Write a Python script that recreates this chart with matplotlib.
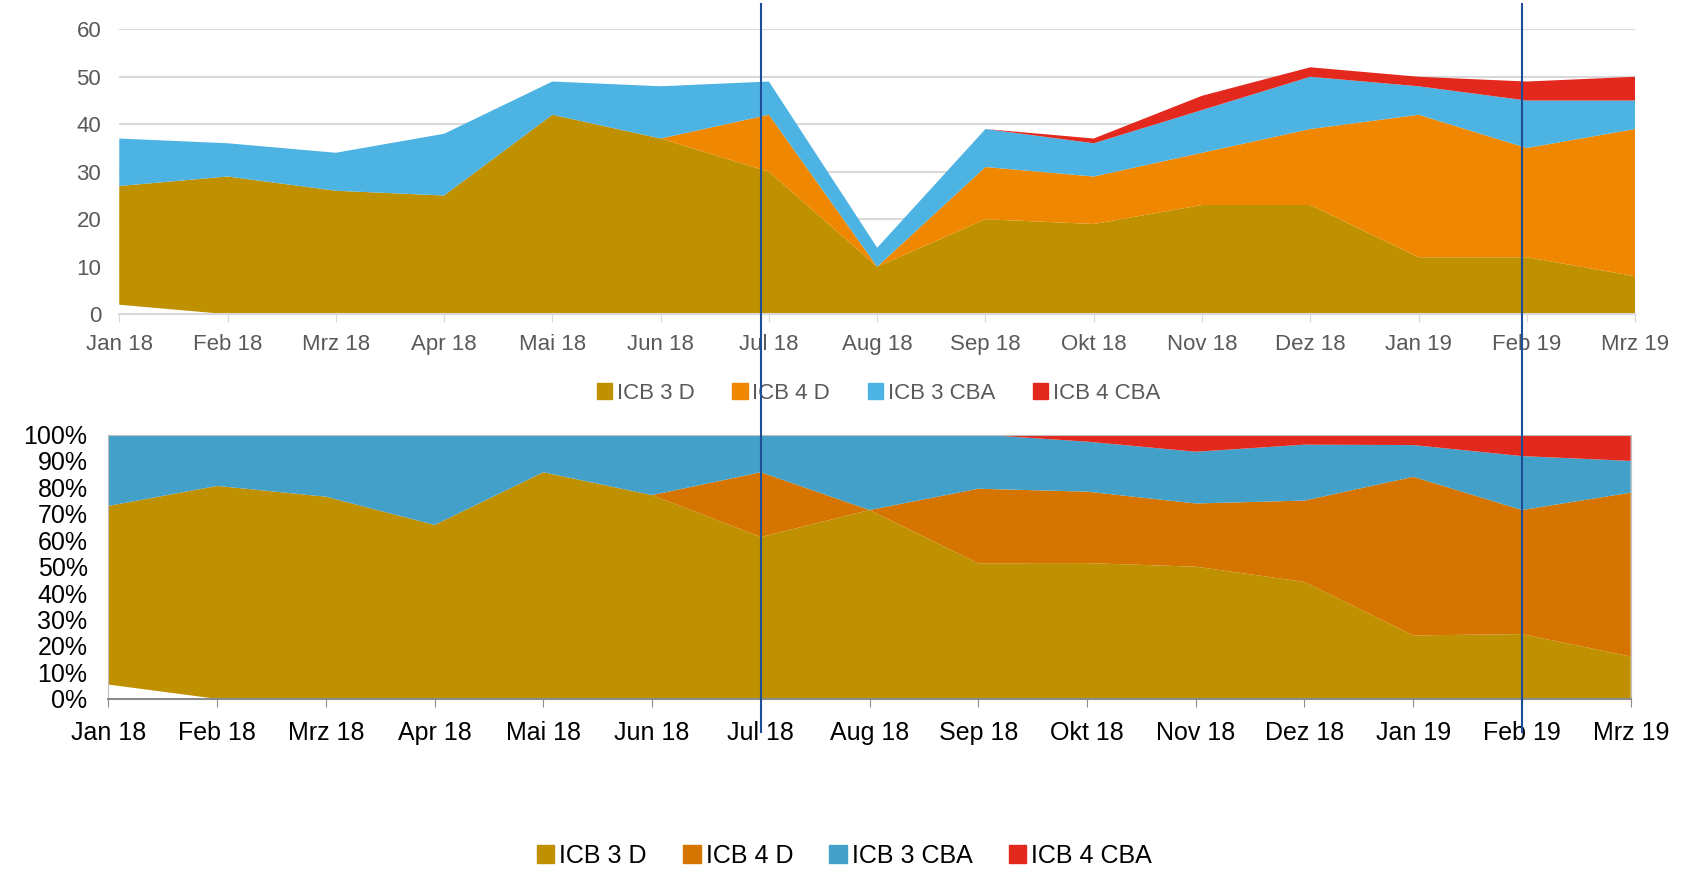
import matplotlib.pyplot as plt
import numpy as np
from matplotlib.lines import Line2D
from matplotlib.patches import Patch
import matplotlib.transforms as mtransforms

plt.rcParams['font.family'] = ['Liberation Sans', 'DejaVu Sans']

months = ['Jan 18', 'Feb 18', 'Mrz 18', 'Apr 18', 'Mai 18', 'Jun 18', 'Jul 18',
          'Aug 18', 'Sep 18', 'Okt 18', 'Nov 18', 'Dez 18', 'Jan 19', 'Feb 19', 'Mrz 19']
# unbenannte Basisreihe (weiss)
base = [2, 0, 0, 0, 0, 0, 0, 0, 0, 0, 0, 0, 0, 0, 0]
icb3d = [25, 29, 26, 25, 42, 37, 30, 10, 20, 19, 23, 23, 12, 12, 8]
icb4d = [0, 0, 0, 0, 0, 0, 12, 0, 11, 10, 11, 16, 30, 23, 31]
icb3cba = [10, 7, 8, 13, 7, 11, 7, 4, 8, 7, 9, 11, 6, 10, 6]
icb4cba = [0, 0, 0, 0, 0, 0, 0, 0, 0, 1, 3, 2, 2, 4, 5]
labels = ['ICB 3 D', 'ICB 4 D', 'ICB 3 CBA', 'ICB 4 CBA']

cols_top = ['#BF9000', '#EF8800', '#4DB3E2', '#E3281D']
cols_bot = ['#BF9000', '#D57500', '#43A0C8', '#E3281D']

x = np.arange(len(months))
series = np.array([base, icb3d, icb4d, icb3cba, icb4cba], dtype=float)
pct = series / series.sum(axis=0) * 100

fig = plt.figure(figsize=(16.99, 8.69), dpi=100)

# oben: absolute Werte
ax1 = fig.add_axes([0.0702, 0.6384, 0.8922, 0.3279])
ax1.stackplot(x, series, colors=['white'] + cols_top, edgecolor='none')
ax1.set_xlim(0, len(months) - 1)
ax1.set_ylim(0, 60)
ax1.set_yticks(range(0, 61, 10))
ax1.yaxis.grid(True, color='#D9D9D9', lw=1.5)
ax1.set_axisbelow(True)
for s in ['top', 'right', 'left']:
    ax1.spines[s].set_visible(False)
ax1.spines['bottom'].set_color('#D9D9D9')
ax1.spines['bottom'].set_linewidth(1.5)
ax1.set_xticks(x)
ax1.set_xticklabels(months)
ax1.tick_params(axis='x', colors='#D9D9D9', labelcolor='#595959', length=6, labelsize=16, pad=8)
ax1.tick_params(axis='y', length=0, labelcolor='#595959', labelsize=16, pad=13)
ax1.legend([Patch(color=c) for c in cols_top], labels, loc='center', bbox_to_anchor=(0.517, 0.5474),
           bbox_transform=fig.transFigure, ncol=4, frameon=False, fontsize=16,
           handlelength=0.7, handleheight=0.7, handletextpad=0.2, columnspacing=1.7,
           labelcolor='#595959')

# unten: Anteile in %
ax2 = fig.add_axes([0.0638, 0.1958, 0.896, 0.3042])
ax2.stackplot(x, pct, colors=['white'] + cols_bot, edgecolor='none')
ax2.set_xlim(0, len(months) - 1)
ax2.set_ylim(0, 100)
ax2.set_yticks(range(0, 101, 10))
ax2.set_yticklabels([f'{v}%' for v in range(0, 101, 10)])
for s in ax2.spines.values():
    s.set_color('#BFBFBF')
ax2.spines['bottom'].set_color('#8C8C8C')
ax2.spines['bottom'].set_linewidth(1.5)
ax2.set_xticks(x)
ax2.set_xticklabels(months)
ax2.tick_params(axis='x', colors='#8C8C8C', labelcolor='black', length=6, labelsize=18, pad=10)
ax2.tick_params(axis='y', length=0, labelcolor='black', labelsize=18, pad=15)
ax2.legend([Patch(color=c) for c in cols_bot], labels, loc='center', bbox_to_anchor=(0.497, 0.015),
           bbox_transform=fig.transFigure, ncol=4, frameon=False, fontsize=18,
           handlelength=0.7, handleheight=0.7, handletextpad=0.2, columnspacing=1.45)

# vertikale Markierungen
trans = mtransforms.blended_transform_factory(ax2.transData, fig.transFigure)
for xm in [6, 13]:
    fig.add_artist(Line2D([xm, xm], [0.158, 0.995], transform=trans, color='#1F4E99', lw=1.5))

plt.savefig('out.png', dpi=100)
